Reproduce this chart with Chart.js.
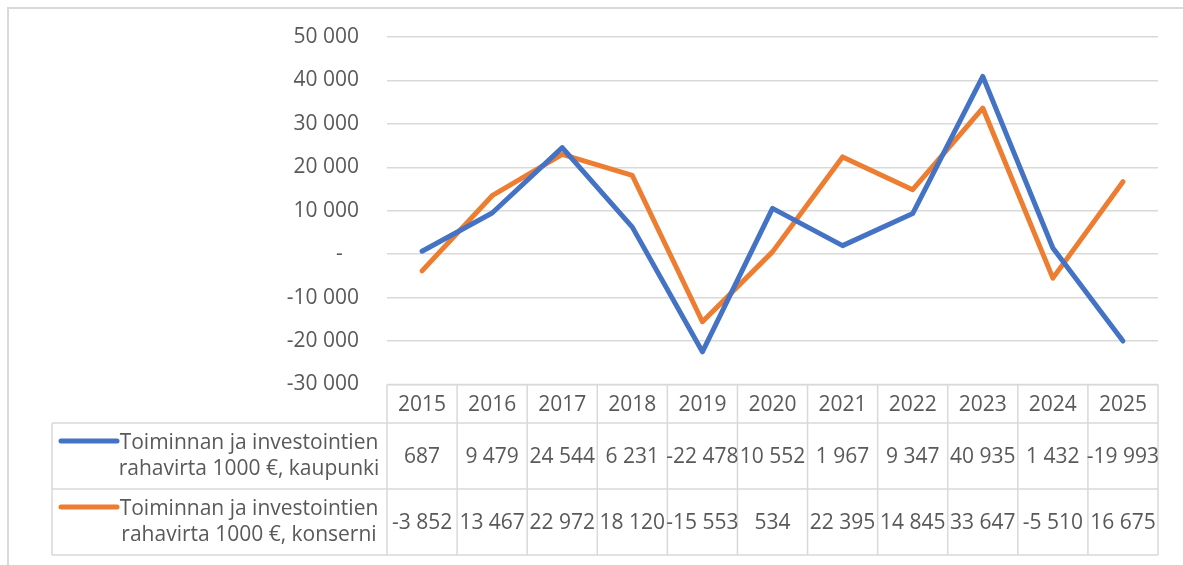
<!DOCTYPE html>
<html lang="fi">
<head>
  <meta charset="UTF-8" />
  <title>Rahavirta</title>
  <script src="https://cdn.jsdelivr.net/npm/chart.js"></script>
  <style>
    body {
        margin: 0;
        background: #ffffff;
    }
    #wrap {
        width: 1183px;
        height: 565px;
    }
  </style>
</head>
<body>
  <div id="wrap"><canvas id="cashChart" width="1183" height="565"></canvas></div>

  <script>
    // data
    const years = ['2015', '2016', '2017', '2018', '2019', '2020', '2021', '2022', '2023', '2024', '2025'];
    const kaupunki = [687, 9479, 24544, 6231, -22478, 10552, 1967, 9347, 40935, 1432, -19993];
    const konserni = [-3852, 13467, 22972, 18120, -15553, 534, 22395, 14845, 33647, -5510, 16675];
    const seriesNames = [
      ['Toiminnan ja investointien', 'rahavirta 1000 €, kaupunki'],
      ['Toiminnan ja investointien', 'rahavirta 1000 €, konserni']
    ];
    const yMin = -30000;
    const yMax = 50000;
    const yStep = 10000;

    const FONT = '"Open Sans", Lato, sans-serif';
    const TEXT = '#595959';
    const LINE = '#d9d9d9';
    const colors = ['#4472C4', '#ED7D31'];

    function fmt(v) {
      if (v === 0) return '-   ';
      const s = Math.abs(v).toString().replace(/\B(?=(\d{3})+(?!\d))/g, '\u00a0');
      return (v < 0 ? '-' : '') + s;
    }

    // draws the outer frame and the data table under the plot
    const dataTable = {
      id: 'dataTable',
      afterDraw(chart) {
        const ctx = chart.ctx;
        const area = chart.chartArea;
        const x = chart.scales.x;
        const colW = (area.right - area.left) / years.length;
        const rows = [area.bottom, 423, 489, 555];
        const labelLeft = 52;

        ctx.save();
        ctx.strokeStyle = LINE;
        ctx.lineWidth = 2;
        ctx.beginPath();
        ctx.moveTo(8, 565);
        ctx.lineTo(8, 8);
        ctx.lineTo(1183, 8);
        ctx.stroke();

        ctx.lineWidth = 1.5;
        ctx.beginPath();
        ctx.moveTo(area.left, rows[0]);
        ctx.lineTo(area.right, rows[0]);
        for (let r = 1; r < rows.length; r++) {
          ctx.moveTo(labelLeft, rows[r]);
          ctx.lineTo(area.right, rows[r]);
        }
        for (let i = 0; i <= years.length; i++) {
          const cx = area.left + i * colW;
          ctx.moveTo(cx, rows[0]);
          ctx.lineTo(cx, rows[3]);
        }
        ctx.moveTo(labelLeft, rows[1]);
        ctx.lineTo(labelLeft, rows[3]);
        ctx.stroke();

        ctx.fillStyle = TEXT;
        ctx.font = '21px ' + FONT;
        ctx.textAlign = 'center';
        ctx.textBaseline = 'middle';
        years.forEach((y, i) => {
          ctx.fillText(y, x.getPixelForValue(i), (rows[0] + rows[1]) / 2 + 1);
        });

        [kaupunki, konserni].forEach((vals, s) => {
          const mid = (rows[s + 1] + rows[s + 2]) / 2;
          vals.forEach((v, i) => {
            ctx.fillText(fmt(v).trim(), x.getPixelForValue(i), mid + 1);
          });
          ctx.fillText(seriesNames[s][0], 249, mid - 13);
          ctx.fillText(seriesNames[s][1], 249, mid + 13);

          ctx.strokeStyle = colors[s];
          ctx.lineWidth = 5;
          ctx.lineCap = 'round';
          ctx.beginPath();
          ctx.moveTo(61, mid - 15);
          ctx.lineTo(117, mid - 15);
          ctx.stroke();
        });
        ctx.restore();
      }
    };

    new Chart(document.getElementById('cashChart'), {
      type: 'line',
      data: {
        labels: years,
        datasets: [
          {
            label: seriesNames[0].join(' '),
            data: kaupunki,
            borderColor: colors[0],
            backgroundColor: colors[0],
            borderWidth: 5,
            pointRadius: 0,
            tension: 0,
            borderCapStyle: 'round',
            borderJoinStyle: 'round'
          },
          {
            label: seriesNames[1].join(' '),
            data: konserni,
            borderColor: colors[1],
            backgroundColor: colors[1],
            borderWidth: 5,
            pointRadius: 0,
            tension: 0,
            borderCapStyle: 'round',
            borderJoinStyle: 'round'
          }
        ]
      },
      options: {
        responsive: false,
        animation: false,
        layout: {
          padding: { left: 0, right: 25, top: 37, bottom: 180.5 }
        },
        plugins: {
          legend: { display: false },
          tooltip: { enabled: false }
        },
        scales: {
          x: {
            display: false,
            offset: true
          },
          y: {
            min: yMin,
            max: yMax,
            afterFit(scale) {
              scale.width = 387;
              scale.paddingTop = 0;
              scale.paddingBottom = 0;
            },
            border: { display: false },
            grid: { color: LINE, lineWidth: 1.5, drawTicks: false },
            ticks: {
              stepSize: yStep,
              padding: 28,
              color: TEXT,
              font: { family: FONT, size: 21 },
              callback: (v) => fmt(v)
            }
          }
        }
      },
      plugins: [dataTable]
    });
  </script>
</body>
</html>
